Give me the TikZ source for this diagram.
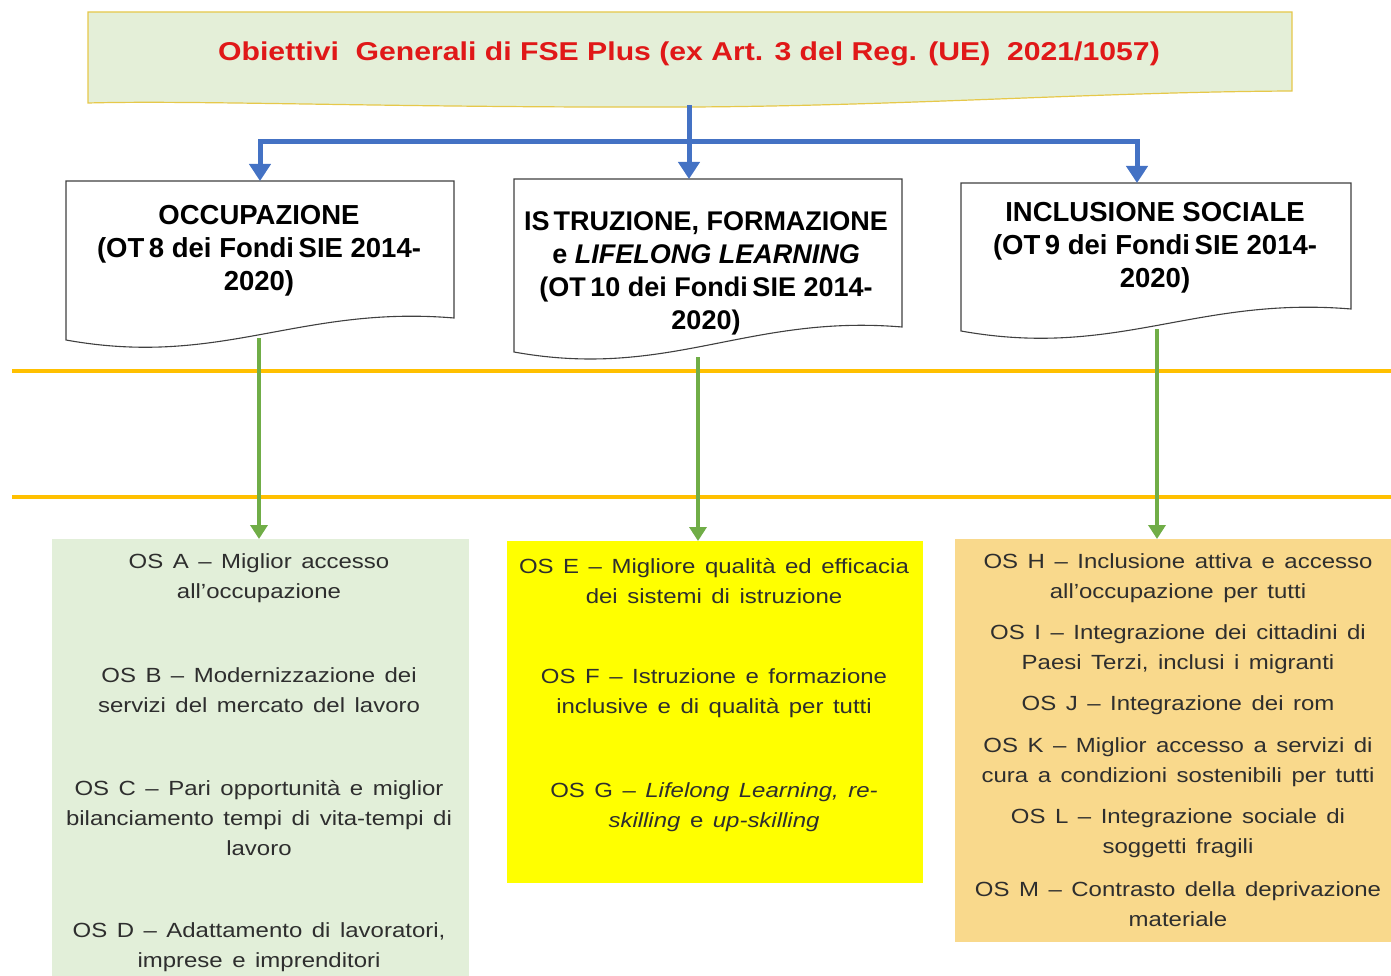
\documentclass[tikz,border=0pt]{standalone}
\usepackage{fontspec}
\setmainfont{Liberation Sans}
\newfontfamily\widesans[FakeStretch=1.17,Ligatures=TeX]{Liberation Sans}
\usetikzlibrary{arrows.meta}
\definecolor{topfill}{HTML}{E4EFD8}
\definecolor{topline}{HTML}{E6C84A}
\definecolor{titlered}{HTML}{E01818}
\definecolor{bluec}{HTML}{4472C4}
\definecolor{greenc}{HTML}{70AD47}
\definecolor{orangec}{HTML}{FFC000}
\definecolor{docline}{HTML}{404040}
\definecolor{boxgreen}{HTML}{E2EFD9}
\definecolor{boxyellow}{HTML}{FFFF00}
\definecolor{boxorange}{HTML}{F9D98C}
\definecolor{ostext}{HTML}{2E2E2E}
\newcommand\myws{\spaceskip=9.5pt plus 1pt\relax}
\tikzset{
  titletext/.style={text=titlered, font=\widesans\fontsize{25.8}{30}\selectfont\bfseries, inner sep=0pt},
  doctext/.style={align=center, font=\fontsize{27.5}{33}\selectfont\bfseries, inner sep=0pt, text=black},
  docshape/.style={draw=docline, line width=1.1pt, fill=white},
  ostxt/.style={align=center, text=ostext, inner sep=0pt, font=\widesans\fontsize{20.5}{30}\selectfont\myws},
  osbox/.style={anchor=north west, inner sep=0pt, draw=none},
  bluearr/.style={draw=bluec, line width=5pt, -{Triangle[width=21pt,length=17pt]}},
  greenarr/.style={draw=greenc, line width=4pt, -{Triangle[width=17pt,length=14pt]}},
  orangeline/.style={draw=orangec, line width=4pt}
}
\begin{document}
\begin{tikzpicture}[x=1pt,y=-1pt]
\useasboundingbox (0,0) rectangle (1391,976);

% orange separator lines
\draw[orangeline] (12,371) -- (1391,371);
\draw[orangeline] (12,497) -- (1391,497);

% top box
\draw[fill=topfill, draw=topline, line width=1.2pt]
  (88,12) -- (1292,12) -- (1292,91)
  .. controls (1100,92) and (900,106) .. (690,107)
  .. controls (400,108) and (200,100) .. (88,103) -- cycle;
\node[titletext] (title) at (689,54) {Obiettivi\ \ Generali di FSE Plus (ex Art. 3 del Reg. (UE)\ \ 2021/1057)};
\coordinate (topout) at (689,105);

% document shapes
\draw[docshape] (66,181) -- (454,181) -- (454,318)
  .. controls (299,305) and (221,368) .. (66,340) -- cycle;
\draw[docshape] (514,179) -- (902,179) -- (902,327)
  .. controls (747,314) and (669,380) .. (514,352) -- cycle;
\draw[docshape] (961,183) -- (1351,183) -- (1351,309)
  .. controls (1195,296) and (1117,359) .. (961,331) -- cycle;

\coordinate (docLtop) at (260,181);
\coordinate (docMtop) at (689,179);
\coordinate (docRtop) at (1137,183);
\coordinate (docLbot) at (259,338);
\coordinate (docMbot) at (698,357);
\coordinate (docRbot) at (1157,329);

\node[doctext] (docL) at (259,251) {OCCUPAZIONE\\(OT\,8 dei Fondi\,SIE 2014-\\2020)};
\node[doctext, font=\fontsize{27}{33}\selectfont\bfseries] (docM) at (706,273) {IS\kern4pt TRUZIONE, FORMAZIONE\\e \textit{LIFELONG LEARNING}\\(OT\,10 dei Fondi\,SIE 2014-\\2020)};
\node[doctext] (docR) at (1155,248) {INCLUSIONE SOCIALE\\(OT\,9 dei Fondi\,SIE 2014-\\2020)};

% blue connectors
\draw[bluearr] (topout) -- (docMtop);
\draw[bluearr, line join=miter] (topout |- 0,142) -| (docLtop);
\draw[bluearr, line join=miter] (topout |- 0,142) -| (docRtop);

% bottom boxes
\node[osbox, fill=boxgreen, minimum width=417pt, minimum height=437pt] (osL) at (52,539) {};
\node[osbox, fill=boxyellow, minimum width=416pt, minimum height=342pt] (osM) at (507,541) {};
\node[osbox, fill=boxorange, minimum width=436pt, minimum height=403pt] (osR) at (955,539) {};

% green connectors
\draw[greenarr] (docLbot) -- (docLbot |- osL.north);
\draw[greenarr] (docMbot) -- (docMbot |- osM.north);
\draw[greenarr] (docRbot) -- (docRbot |- osR.north);

% texts left
\node[ostxt] (osA) at (259,578) {OS A – Miglior accesso\\all’occupazione};
\node[ostxt] (osB) at (259,690) {OS B – Modernizzazione dei\\servizi del mercato del lavoro};
\node[ostxt] (osC) at (259,818) {OS C – Pari opportunità e miglior\\bilanciamento tempi di vita-tempi di\\lavoro};
\node[ostxt] (osD) at (259,947) {OS D – Adattamento di lavoratori,\\imprese e imprenditori};

% texts middle
\node[ostxt] (osE) at (714,581) {OS E – Migliore qualità ed efficacia\\dei sistemi di istruzione};
\node[ostxt] (osF) at (714,693) {OS F – Istruzione e formazione\\inclusive e di qualità per tutti};
\node[ostxt] (osG) at (714,807) {OS G – \textit{Lifelong Learning, re-}\\\textit{skilling} e \textit{up-skilling}};

% texts right
\node[ostxt] (osH) at (1178,578) {OS H – Inclusione attiva e accesso\\all’occupazione per tutti};
\node[ostxt] (osI) at (1178,649) {OS I – Integrazione dei cittadini di\\Paesi Terzi, inclusi i migranti};
\node[ostxt] (osJ) at (1178,705) {OS J – Integrazione dei rom};
\node[ostxt] (osK) at (1178,762) {OS K – Miglior accesso a servizi di\\cura a condizioni sostenibili per tutti};
\node[ostxt] (osLL) at (1178,833) {OS L – Integrazione sociale di\\soggetti fragili};
\node[ostxt] (osMM) at (1178,904) {OS M – Contrasto della deprivazione\\materiale};
\end{tikzpicture}
\end{document}
